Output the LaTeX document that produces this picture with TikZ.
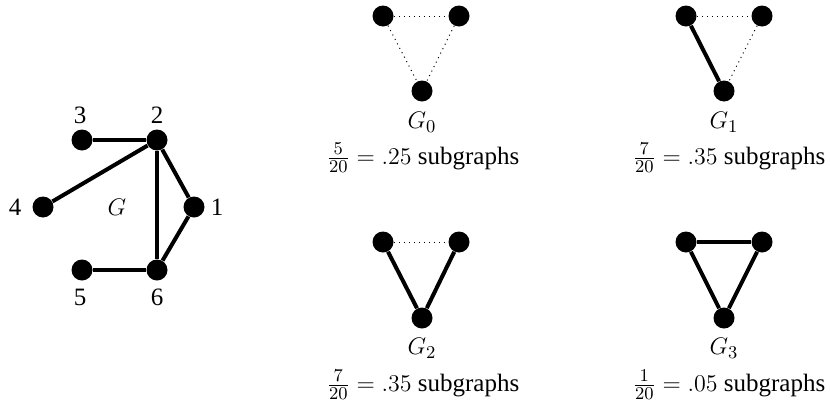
\documentclass[tikz,border=0pt]{standalone}
\usepackage{fontspec}
\setmainfont{Liberation Serif}
\begin{document}
\begin{tikzpicture}[x=0.5pt,y=-0.5pt,
  vtx/.style={circle,fill=black,draw=none,minimum size=10.5pt,inner sep=0pt},
  thickedge/.style={line width=2pt},
  dotedge/.style={dotted,line width=0.5pt},
  lbl/.style={inner sep=0pt,font=\fontsize{12.5}{15}\selectfont}]
\useasboundingbox (0,0) rectangle (830,413);
% main graph G
\node[vtx] (n1) at (194,207) {};
\node[vtx] (n2) at (157,140) {};
\node[vtx] (n3) at (82,140) {};
\node[vtx] (n4) at (43,207) {};
\node[vtx] (n5) at (82,270) {};
\node[vtx] (n6) at (157,270) {};
\node[lbl] (l1) at (217,207) {1};
\node[lbl] (l2) at (157,115) {2};
\node[lbl] (l3) at (80,115) {3};
\node[lbl] (l4) at (15,207) {4};
\node[lbl] (l5) at (80,297) {5};
\node[lbl] (l6) at (157,297) {6};
\node[lbl] (lG) at (117,207) {$G$};
\draw[thickedge] (n3) -- (n2);
\draw[thickedge] (n4) -- (n2);
\draw[thickedge] (n2) -- (n1);
\draw[thickedge] (n2) -- (n6);
\draw[thickedge] (n1) -- (n6);
\draw[thickedge] (n5) -- (n6);
% G0
\node[vtx] (a1) at (383,16) {};
\node[vtx] (a2) at (459,16) {};
\node[vtx] (a3) at (422,91) {};
\draw[dotedge] (a1) -- (a2);
\draw[dotedge] (a1) -- (a3);
\draw[dotedge] (a2) -- (a3);
\node[lbl] (ga) at (422,122) {$G_0$};
\node[lbl] (ta) at (423,158) {$\frac{5}{20}=.25$ subgraphs};
% G1
\node[vtx] (b1) at (686,16) {};
\node[vtx] (b2) at (762,16) {};
\node[vtx] (b3) at (724,91) {};
\draw[dotedge] (b1) -- (b2);
\draw[thickedge] (b1) -- (b3);
\draw[dotedge] (b2) -- (b3);
\node[lbl] (gb) at (724,122) {$G_1$};
\node[lbl] (tb) at (729,158) {$\frac{7}{20}=.35$ subgraphs};
% G2
\node[vtx] (c1) at (383,242) {};
\node[vtx] (c2) at (459,242) {};
\node[vtx] (c3) at (422,318) {};
\draw[dotedge] (c1) -- (c2);
\draw[thickedge] (c1) -- (c3);
\draw[thickedge] (c2) -- (c3);
\node[lbl] (gc) at (422,348) {$G_2$};
\node[lbl] (tc) at (423,385) {$\frac{7}{20}=.35$ subgraphs};
% G3
\node[vtx] (d1) at (686,242) {};
\node[vtx] (d2) at (762,242) {};
\node[vtx] (d3) at (724,318) {};
\draw[thickedge] (d1) -- (d2);
\draw[thickedge] (d1) -- (d3);
\draw[thickedge] (d2) -- (d3);
\node[lbl] (gd) at (724,348) {$G_3$};
\node[lbl] (td) at (729,385) {$\frac{1}{20}=.05$ subgraphs};
\end{tikzpicture}
\end{document}
